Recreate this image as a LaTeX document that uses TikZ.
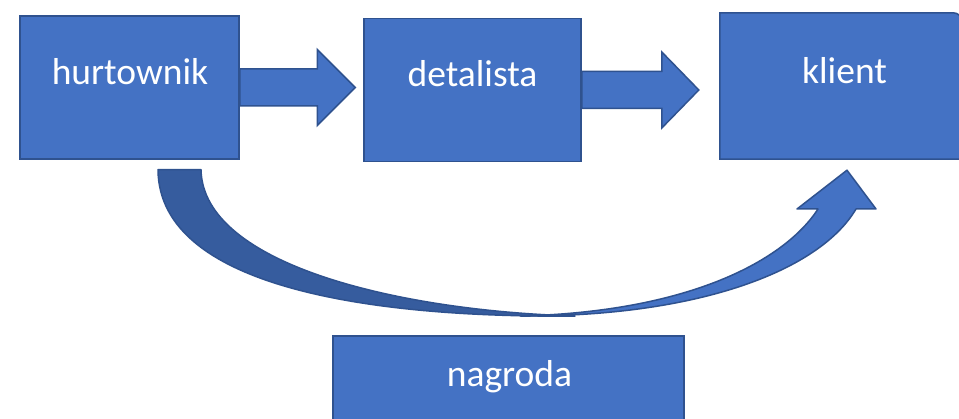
\documentclass[tikz,border=0pt]{standalone}
\usepackage{fontspec}
\setmainfont{Carlito}
\usetikzlibrary{calc}
\definecolor{boxfill}{HTML}{4472C4}
\definecolor{boxline}{HTML}{2F528F}
\definecolor{bandfill}{RGB}{54,92,158}
\tikzset{
  blockbox/.style={draw=boxline, fill=boxfill, line width=1.5pt, inner sep=0pt},
  boxtext/.style={text=white, anchor=base, inner sep=0pt,
    font=\fontsize{37.5}{45}\selectfont},
  blockarr/.style={draw=boxline, fill=boxfill, line width=1.5pt, line join=miter},
  bandpart/.style={draw=boxline, fill=bandfill, line width=1.5pt, line join=round},
}
\begin{document}
\begin{tikzpicture}[x=1pt, y=-1pt]
\useasboundingbox (0,0) rectangle (959,419);
\clip (0,0) rectangle (959,419);
\fill[white] (0,0) rectangle (959,419);

% boxes
\node[blockbox, minimum width=219pt, minimum height=143pt] (h) at (129.5,87.5) {};
\node[blockbox, minimum width=217pt, minimum height=143pt] (d) at (472.5,90) {};
\node[inner sep=0pt, minimum width=242pt, minimum height=146pt] (k) at (841,86) {};
\path[blockbox] (k.south west) -- (k.north west) [rounded corners=9pt] -- (k.north east)
  [sharp corners] -- (k.south east) -- cycle;
\node[blockbox, minimum width=351pt, minimum height=110pt] (n) at (508.5,391) {};

% labels
\node[boxtext] (ht) at (130,85) {hurtownik};
\node[boxtext] (dt) at (472.5,87) {detalista};
\node[boxtext] (kt) at (844.5,84) {klient};
\node[boxtext] (nt) at (509.5,387) {nagroda};

% block arrows between the boxes (axis taken from the source box)
\path[blockarr] let \p1=(h.east), \p2=(d.west) in
  (\x1,\y1+18.5pt) -- (\x2-46pt,\y1+18.5pt) -- (\x2-46pt,\y1+38pt)
  -- (\x2-8pt,\y1) -- (\x2-46pt,\y1-38pt) -- (\x2-46pt,\y1-18.5pt)
  -- (\x1,\y1-18.5pt) -- cycle;
\path[blockarr] let \p1=(d.east), \p2=(k.west) in
  (\x1,\y1+18.5pt) -- (\x2-58pt,\y1+18.5pt) -- (\x2-58pt,\y1+38pt)
  -- (\x2-21pt,\y1) -- (\x2-58pt,\y1-38pt) -- (\x2-58pt,\y1-18.5pt)
  -- (\x1,\y1-18.5pt) -- cycle;

% curved arrow from the wholesaler round to the client
\coordinate (cs1) at ($(h.south)+(28.5,10)$);
\coordinate (cs2) at ($(h.south)+(71.5,10)$);
\coordinate (tip) at ($(k.south)+(6,11)$);
\path[bandpart]
  (cs1) .. controls (159,290) and (380,318) .. (575,316)
  .. controls (400,311) and (203,265) .. (cs2) -- cycle;
\path[blockarr, line join=round]
  (520,316) .. controls (690,312) and (785,260) .. (818,209)
  -- (797,209) -- (tip) -- (876,209) -- (856,209)
  .. controls (820,270) and (700,317) .. (520,316) -- cycle;
\end{tikzpicture}
\end{document}
